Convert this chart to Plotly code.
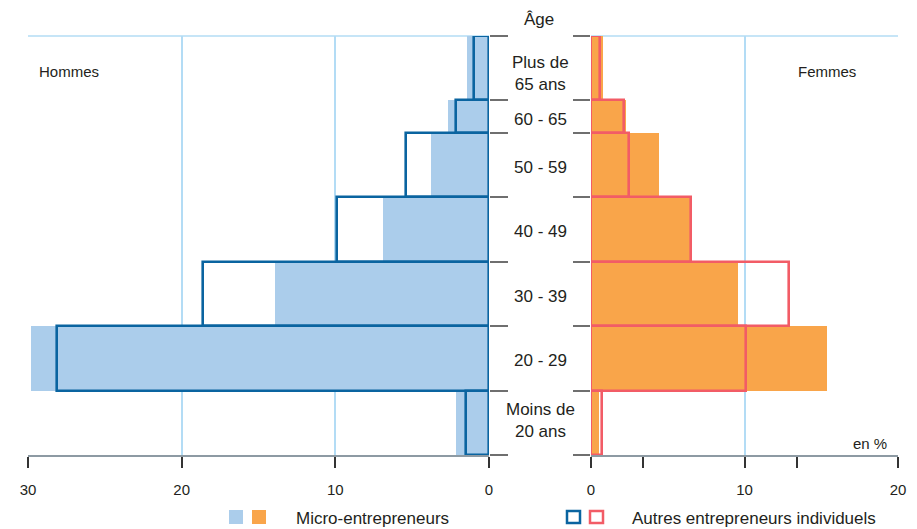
import plotly.graph_objects as go

# ---- data ----
age_labels = ["Moins de<br>20 ans", "20 - 29", "30 - 39", "40 - 49", "50 - 59", "60 - 65", "Plus de<br>65 ans"]
age_low = [10, 20, 30, 40, 50, 60, 65]
age_high = [20, 30, 40, 50, 60, 65, 75]

hommes_micro = [2.15, 29.8, 13.9, 6.9, 3.8, 2.65, 1.45]
hommes_autres = [1.5, 28.1, 18.6, 9.9, 5.4, 2.15, 1.0]
femmes_micro = [0.5, 15.4, 9.6, 6.5, 4.4, 2.25, 0.8]
femmes_autres = [0.7, 10.1, 12.9, 6.5, 2.5, 2.15, 0.6]

hommes_ticks = [0, 10, 20, 30]
femmes_ticks = [0, 10, 20]
femmes_minor_ticks = [3.4, 13.4]

# ---- styles ----
OFF = 8  # page body margin
W, H = 917 - OFF, 529 - OFF
FONT = "Liberation Sans, Arial, sans-serif"
TXT = "#231f20"
C_MICRO_H = "#abcdeb"
C_MICRO_F = "#f9a54a"
C_AUTRES_H = "#0a64a0"
C_AUTRES_F = "#f25c66"
GRID = "#b3dcf5"
AXIS = "#8d9aa3"
LABEL_SHIFT = {"Moins de<br>20 ans": 2, "Plus de<br>65 ans": -5}  # pixel nudges (up +)

mid = [(a + b) / 2 for a, b in zip(age_low, age_high)]
wid = [b - a for a, b in zip(age_low, age_high)]

def px_x(p):
    return (p - OFF) / W

def px_y(p):
    return 1 - (p - OFF) / H

fig = go.Figure()
fig.add_trace(go.Bar(y=mid, x=hommes_micro, width=wid, orientation="h", base=0,
                     marker=dict(color=C_MICRO_H, line=dict(width=0)), xaxis="x", yaxis="y"))
fig.add_trace(go.Bar(y=mid, x=hommes_autres, width=wid, orientation="h", base=0,
                     marker=dict(color="rgba(0,0,0,0)", line=dict(width=2.6, color=C_AUTRES_H)),
                     xaxis="x", yaxis="y"))
fig.add_trace(go.Bar(y=mid, x=femmes_micro, width=wid, orientation="h", base=0,
                     marker=dict(color=C_MICRO_F, line=dict(width=0)), xaxis="x2", yaxis="y2"))
fig.add_trace(go.Bar(y=mid, x=femmes_autres, width=wid, orientation="h", base=0,
                     marker=dict(color="rgba(0,0,0,0)", line=dict(width=2.6, color=C_AUTRES_F)),
                     xaxis="x2", yaxis="y2"))

ydom = [px_y(455), px_y(36)]
yr = [min(age_low), max(age_high)]
ytv = sorted(set(age_low + age_high))

common_x = dict(showline=True, linecolor=AXIS, linewidth=2, ticks="outside", ticklen=11,
                tickwidth=1.5, tickcolor="#333333", showgrid=True, gridcolor=GRID, gridwidth=1.5,
                zeroline=False, tickfont=dict(family=FONT, size=15, color=TXT), fixedrange=True,
                automargin=False, ticklabelstandoff=9)

fig.update_layout(
    template="none",
    width=W, height=H,
    margin=dict(l=0, r=0, t=0, b=0, pad=0),
    paper_bgcolor="white", plot_bgcolor="white",
    barmode="overlay", showlegend=False, bargap=0,
    font=dict(family=FONT, color=TXT),
    xaxis=dict(domain=[px_x(28), px_x(489)], range=[30, 0], tickvals=hommes_ticks,
               anchor="y", **common_x),
    xaxis2=dict(domain=[px_x(591), px_x(898)], range=[0, 20], tickvals=femmes_ticks,
                anchor="y2",
                minor=dict(tickvals=femmes_minor_ticks, ticks="outside", ticklen=11,
                           tickwidth=1.5, tickcolor="#333333", showgrid=False),
                **common_x),
    yaxis=dict(domain=ydom, range=yr, anchor="x", side="right", tickvals=ytv,
               showticklabels=False, ticks="outside", ticklen=18, tickwidth=1.5,
               tickcolor="#6f6f6f", showgrid=False, zeroline=False, showline=False,
               fixedrange=True, automargin=False),
    yaxis2=dict(domain=ydom, range=yr, anchor="x2", side="left", tickvals=ytv,
                showticklabels=False, ticks="outside", ticklen=17, tickwidth=1.5,
                tickcolor="#6f6f6f", showgrid=False, zeroline=False, showline=False,
                matches="y", fixedrange=True, automargin=False),
)

shapes = [
    dict(type="line", xref="x domain", yref="y domain", x0=0, x1=1, y0=1, y1=1,
         line=dict(color=GRID, width=1.5), layer="below"),
    dict(type="line", xref="x2 domain", yref="y2 domain", x0=0, x1=1, y0=1, y1=1,
         line=dict(color=GRID, width=1.5), layer="below"),
    # legend swatches
    dict(type="rect", xref="paper", yref="paper", x0=px_x(229), x1=px_x(243),
         y0=px_y(524), y1=px_y(510), fillcolor=C_MICRO_H, line=dict(width=0)),
    dict(type="rect", xref="paper", yref="paper", x0=px_x(252), x1=px_x(266),
         y0=px_y(524), y1=px_y(510), fillcolor=C_MICRO_F, line=dict(width=0)),
    dict(type="rect", xref="paper", yref="paper", x0=px_x(567), x1=px_x(580),
         y0=px_y(523), y1=px_y(511), fillcolor="white", line=dict(width=2.5, color=C_AUTRES_H)),
    dict(type="rect", xref="paper", yref="paper", x0=px_x(590), x1=px_x(603),
         y0=px_y(523), y1=px_y(511), fillcolor="white", line=dict(width=2.5, color=C_AUTRES_F)),
]
fig.update_layout(shapes=shapes)

ann = []
for lab, m in zip(age_labels, mid):
    ann.append(dict(text=lab, x=px_x(540), y=m, xref="paper", yref="y", showarrow=False,
                    xanchor="center", yanchor="middle", yshift=LABEL_SHIFT.get(lab, -2.5),
                    font=dict(size=17, color=TXT, family=FONT)))
ann += [
    dict(text="Âge", x=px_x(539), y=px_y(19), xref="paper", yref="paper", showarrow=False,
         xanchor="center", yanchor="middle", font=dict(size=17, color=TXT, family=FONT)),
    dict(text="Hommes", x=px_x(37), y=px_y(71), xref="paper", yref="paper", showarrow=False,
         xanchor="left", yanchor="middle", font=dict(size=15, color=TXT, family=FONT)),
    dict(text="Femmes", x=px_x(827), y=px_y(71), xref="paper", yref="paper", showarrow=False,
         xanchor="center", yanchor="middle", font=dict(size=15, color=TXT, family=FONT)),
    dict(text="en %", x=px_x(889), y=px_y(443), xref="paper", yref="paper", showarrow=False,
         xanchor="right", yanchor="middle", font=dict(size=15, color=TXT, family=FONT)),
    dict(text="Micro-entrepreneurs", x=px_x(294), y=px_y(518), xref="paper", yref="paper",
         showarrow=False, xanchor="left", yanchor="middle", font=dict(size=17, color=TXT, family=FONT)),
    dict(text="Autres entrepreneurs individuels", x=px_x(630), y=px_y(518), xref="paper",
         yref="paper", showarrow=False, xanchor="left", yanchor="middle",
         font=dict(size=17, color=TXT, family=FONT)),
]
fig.update_layout(annotations=ann)

fig.write_html("out.html")
